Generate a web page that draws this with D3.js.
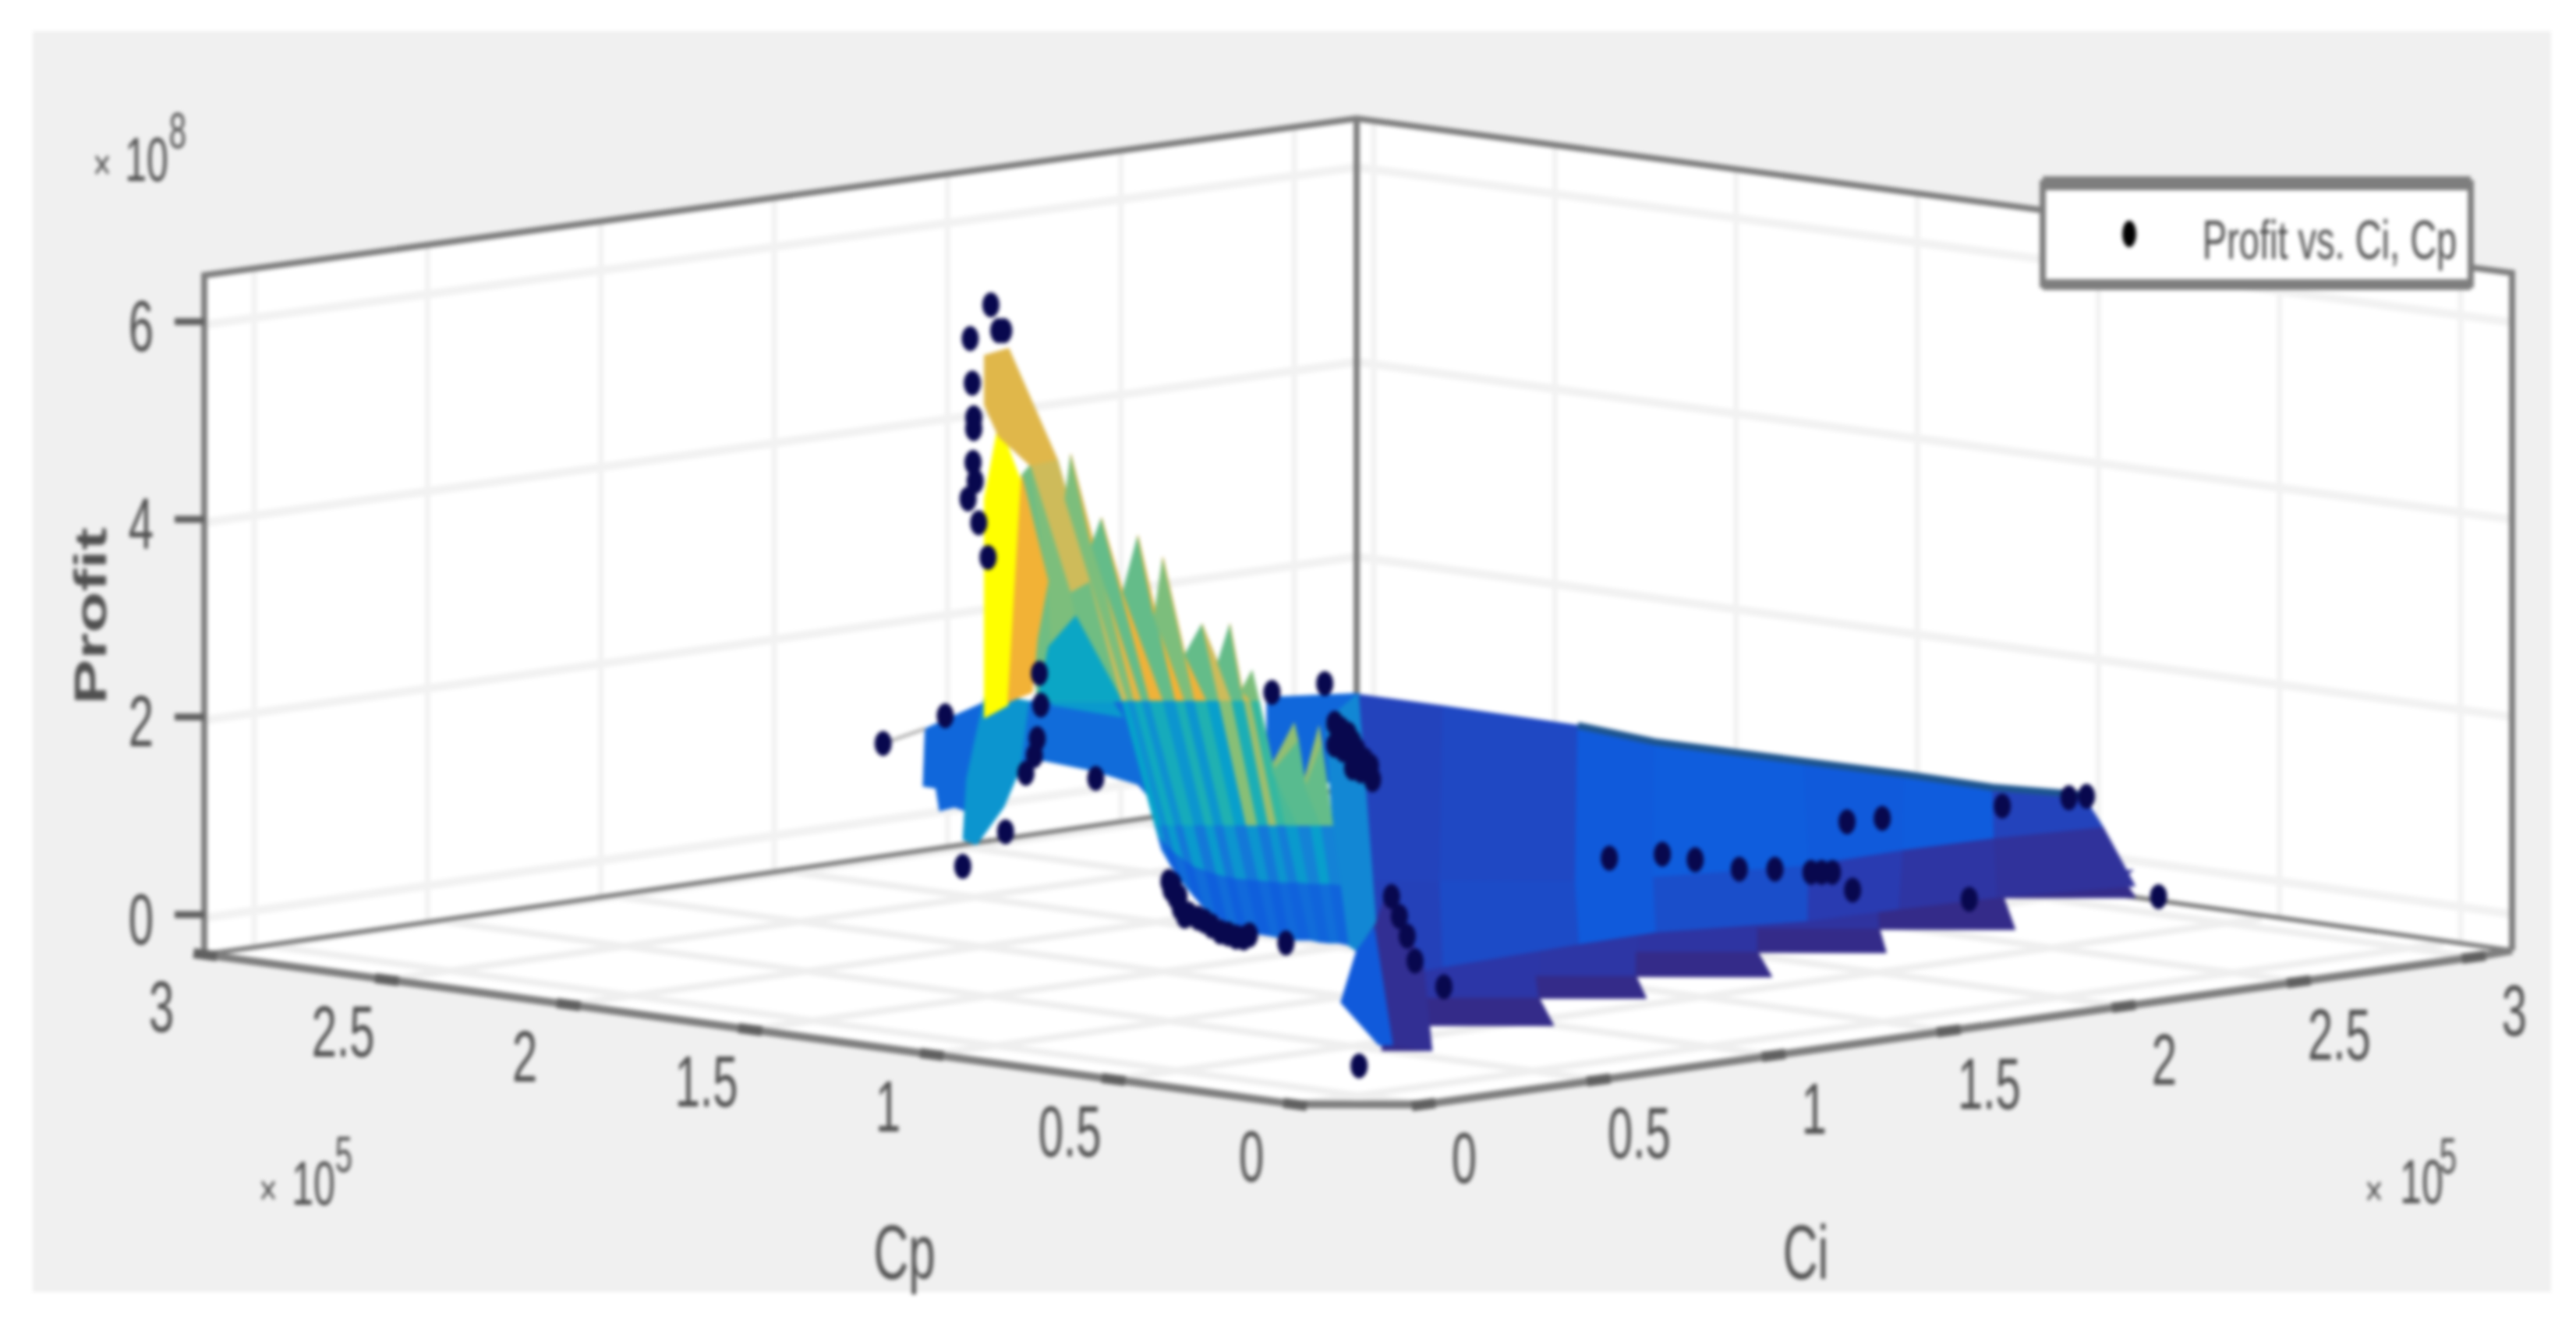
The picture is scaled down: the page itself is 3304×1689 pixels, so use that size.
<!DOCTYPE html>
<html><head><meta charset="utf-8">
<script src="https://cdn.jsdelivr.net/npm/d3@7/dist/d3.min.js"></script>
<style>html,body{margin:0;padding:0;background:#fff}svg{display:block;filter:blur(2.5px)}</style>
</head><body><div id="chart"></div>
<script>
// ---------- axis data ----------
const cpTicks=[0,0.5,1,1.5,2,2.5,3];
const ciTicks=[0,0.5,1,1.5,2,2.5,3];
const zTicks=[0,2,4,6];
const legendLabel="Profit vs. Ci, Cp";
const cpLimits=[-0.18,3], ciLimits=[-0.18,3.1], zLimits=[-0.37,6.5];

// ---------- scatter data (Cp, Ci in 1e5, Profit in 1e8) ----------
const scatterCp=[1.987,1.976,1.969,2.016,2.013,2.011,2.011,2.012,2.009,2.019,2.004,1.991,
 2.138,2.051,1.919,1.917,1.922,1.926,1.938,1.840,1.593,1.519,0.985,1.045,-0.07,
 0.756,0.753,0.746,0.740,0.734,0.715,0.696,0.684,0.662,0.643,0.592,
 0.750,0.742,0.728,0.706,0.673,0.651,
 1.505,1.486,1.474,1.455,1.493,1.468,1.505,
 1.496,1.48,1.463,1.48,1.494,1.452,
 0.53,0.52,0.51,0.885,0.87,0.855,0.82,0.72,0.565,0.515,0.435,0.42,0.405,0.20,0.537,0.495,0.40,
 0.444,0.433,0.422,0.411];
const scatterCi=[1.013,1.024,1.031,0.984,0.987,0.989,0.989,0.988,0.991,0.981,0.996,1.009,
 0.862,0.949,1.081,1.083,1.078,1.074,1.062,1.160,1.407,1.481,0.015,-0.045,-0.07,
 0.244,0.247,0.254,0.260,0.266,0.285,0.304,0.316,0.338,0.357,0.408,
 0.250,0.258,0.272,0.294,0.327,0.349,
 1.495,1.514,1.526,1.545,1.507,1.532,1.495,
 1.504,1.52,1.537,1.52,1.506,1.548,
 2.39,2.57,2.61,2.315,2.40,1.605,1.72,1.71,1.675,1.725,1.745,1.76,1.775,1.62,2.303,2.80,0.66,
 0.556,0.567,0.578,0.589];
const scatterZ=[6.11,5.85,5.85,5.77,5.32,4.97,4.86,4.52,4.33,4.15,3.91,3.56,
 1.68,1.96,2.39,2.07,1.73,1.56,1.38,1.33,2.20,2.29,1.79,1.44,0,
 1.29,1.21,1.13,1.02,0.94,0.92,0.84,0.78,0.73,0.75,0.67,
 1.26,1.14,0.96,0.89,0.76,0.72,
 1.89,1.78,1.62,1.46,1.62,1.41,1.67,
 1.83,1.70,1.52,1.44,1.75,1.32,
 1.1,1.1,1.1,0.8,0.8,0.8,0.8,0.8,0.8,0.8,0.8,0.8,0.8,0.8,0.2,0,0.2,
 1.14,0.94,0.74,0.49];

// ---------- fitted surface: sawtooth ridge (rows x columns) ----------
const ribCp=[
 [1.894,1.883,1.875,1.846,1.832,1.802,1.781,1.758,1.746,1.715,1.691,1.669,1.652,1.636,1.621,1.595,1.562,1.549,1.527],
 [1.803,1.795,1.786,1.775,1.764,1.745,1.728,1.715,1.701,1.684,1.667,1.649,1.632,1.622,1.611,1.592,1.556,1.546,1.523],
 [1.266,1.257,1.249,1.238,1.227,1.211,1.196,1.183,1.170,1.154,1.138,1.122,1.107,1.095,1.083,1.066,1.048,1.033,1.017],
 [1.016,1.005,0.994,0.980,0.967,0.951,0.935,0.921,0.908,0.892,0.876,0.861,0.847,0.834,0.821,0.806,0.790,0.776,0.761],
 [0.766,0.753,0.739,0.722,0.706,0.690,0.673,0.659,0.646,0.630,0.613,0.600,0.586,0.573,0.558,0.545,0.531,0.518,0.505]];
const ribCi=[
 [1.106,1.117,1.125,1.154,1.168,1.198,1.219,1.242,1.254,1.285,1.309,1.331,1.348,1.364,1.379,1.405,1.438,1.451,1.473],
 [1.197,1.205,1.214,1.225,1.236,1.255,1.272,1.285,1.299,1.316,1.333,1.351,1.368,1.378,1.389,1.408,1.444,1.454,1.477],
 [0.734,0.743,0.751,0.762,0.773,0.789,0.804,0.817,0.830,0.846,0.862,0.878,0.893,0.905,0.917,0.934,0.952,0.967,0.983],
 [0.484,0.495,0.506,0.520,0.534,0.550,0.566,0.579,0.592,0.608,0.625,0.639,0.654,0.666,0.680,0.695,0.711,0.725,0.739],
 [0.234,0.247,0.261,0.278,0.294,0.310,0.327,0.341,0.354,0.370,0.387,0.400,0.414,0.427,0.442,0.455,0.469,0.482,0.495]];
const ribZ=[
 [4.55,4.15,4.60,3.68,3.96,3.21,3.78,2.97,3.56,2.58,2.89,2.50,2.89,2.22,2.42,1.44,1.89,1.28,1.86],
 [2.11,2.11,2.11,2.11,2.11,2.11,2.11,2.11,2.11,2.11,2.11,2.11,2.11,2.11,2.11,1.40,1.71,1.24,1.67],
 [1.35,1.35,1.35,1.35,1.35,1.35,1.35,1.35,1.35,1.35,1.35,1.35,1.35,1.35,1.35,1.35,1.35,1.35,1.35],
 [1.48,1.40,1.325,1.25,1.185,1.145,1.105,1.085,1.065,1.055,1.045,1.035,1.025,1.025,1.025,1.015,1.01,1.01,1.00],
 [1.61,1.45,1.30,1.15,1.02,0.94,0.86,0.82,0.78,0.76,0.74,0.72,0.70,0.70,0.70,0.68,0.67,0.67,0.65]];
const ribC=[
 [4.4,3.6,4.8,3.4,5.0,3.4,5.1,3.6,5.0,3.4,4.4,3.4,4.6,3.6,3.6,3.8,3.6,3.8],
 [2.2,1.8,2.4,1.8,2.5,1.9,2.6,1.9,2.7,2.1,3.7,2.6,3.9,3.0,3.2,3.3,3.3,3.4],
 [1.9,1.3,2.0,1.3,2.0,1.3,2.0,1.3,1.9,1.3,1.9,1.3,1.9,1.4,2.0,1.5,2.1,1.5],
 [1.0,0.8,1.05,0.8,1.05,0.8,1.05,0.8,1.0,0.8,1.0,0.8,1.0,0.85,1.05,0.9,1.1,0.9]];

// ---------- fitted surface: low sheet ----------
const sheetCp=[[2.54,2.30,1.92,1.65,1.25,0.98,0.73,0.53],
 [1.07,0.96,0.77,0.70,0.60,0.62,0.61,0.57],
 [0.41,0.45,0.49,0.50,0.40,0.39,0.37,0.29]];
const sheetCi=[[2.63,2.63,2.62,2.56,2.57,2.58,2.57,2.62],
 [1.12,1.23,1.42,1.57,1.91,2.20,2.45,2.72],
 [0.43,0.71,1.14,1.37,1.70,1.95,2.21,2.52]];
const sheetZ=[1.1,0.7,0.35];
const sheetC=[[0.50,0.55,0.72,0.75,0.72,0.74,0.50],
 [0.48,0.58,0.72,0.60,0.42,0.28,0.20]];

// ---------- fitted surface: stair-stepped lower edge ----------
const stairCp=[[0.58,0.05,-0.02,0.25,0.60],[0.60,0.25,0.06,0.35,0.66],[0.66,0.35,0.20,0.43,0.65],
 [0.65,0.43,0.24,0.50,0.59],[0.59,0.50,0.32,0.56,0.55],[0.55,0.56,0.37,0.70,0.51],[0.51,0.70,0.52,0.73,0.45]];
const stairCi=[[0.67,0.12,0.19,0.43,0.80],[0.80,0.43,0.62,0.88,1.21],[1.21,0.88,1.03,1.24,1.48],
 [1.48,1.24,1.43,1.66,1.75],[1.75,1.66,1.84,2.07,2.06],[2.06,2.07,2.26,2.57,2.38],[2.38,2.57,2.76,2.94,2.68]];
const stairZ=[0.35,0,0,0,0.35];
const stairC=[0.30,0.32,0.30,0.27,0.24,0.20,0.16];
const stairLipCp=[0.30,0.52,0.57,0.67,0.73,0.88,0.90];
const stairLipCi=[0.38,0.71,1.10,1.49,1.90,2.40,2.77];
const stairLipC=0.02;

// ---------- fitted surface: patches behind the sheet ----------
const backCp=[[1.6,1.472,1.472,1.6],
 [2.079,1.995,1.995,2.038,2.059,2.064,2.082],
 [1.995,1.928,1.944,1.969,2.007,2.026,2.021],
 [1.933,1.906,1.869,1.769,1.748,1.781,1.844,1.913,1.944],
 [1.906,1.869,1.802,1.901]];
const backCi=[[1.4,1.528,1.528,1.4],
 [0.921,1.005,1.005,0.962,0.941,0.936,0.918],
 [1.005,1.072,1.056,1.031,0.993,0.974,0.979],
 [1.067,1.094,1.131,1.231,1.252,1.219,1.156,1.087,1.056],
 [1.094,1.131,1.198,1.099]];
const backZ=[[2.15,2.19,1.32,1.24],
 [1.83,2.10,0.93,1.04,1.00,1.23,1.25],
 [2.19,2.10,1.46,1.04,0.66,0.71,1.32],
 [2.10,2.19,2.68,1.87,1.00,1.27,1.41,1.51,1.46],
 [2.19,2.68,1.95,2.07]];
const backC=[0.95,0.95,1.9,1.05,2.0];

// ---------- fitted surface: peak patches ----------
const peakCp=[[1.518,1.472,0.466,0.493,0.505,1.017],
 [1.944,1.932,1.894,1.803,1.922],
 [1.932,1.894,1.846,1.876],
 [1.907,1.932,1.876,1.857,1.901],
 [1.922,1.906,1.868,1.803],
 [1.996,1.996,1.976,1.944,1.963],
 [1.963,1.944,1.907,1.922,1.929],
 [1.996,1.962,1.894,1.932,1.976,1.996]];
const peakCi=[[1.482,1.528,0.534,0.507,0.495,0.983],
 [1.056,1.068,1.106,1.197,1.078],
 [1.068,1.106,1.154,1.124],
 [1.093,1.068,1.124,1.143,1.099],
 [1.078,1.094,1.132,1.197],
 [1.004,1.004,1.024,1.056,1.037],
 [1.037,1.056,1.093,1.078,1.071],
 [1.004,1.038,1.106,1.068,1.024,1.004]];
const peakZ=[[1.91,2.19,0.88,0.59,0.65,1.35],
 [4.39,4.49,4.55,2.11,2.11],
 [4.49,4.55,3.33,3.21],
 [3.32,4.49,3.21,2.50,2.50],
 [2.11,2.66,2.97,2.11],
 [1.94,4.15,4.92,4.31,2.07],
 [2.10,4.39,3.32,2.74,2.20],
 [5.60,5.67,4.55,4.49,4.78,5.10]];
const peakC=[1.6,3.5,4.4,3.6,2.3,5.9,5.05,4.7];

// ---------- fitted surface: front strip ----------
const frontCp=[[0.468,0.94,0.399,-0.02,0.05],[0.515,0.493,0.468,0.05,0.069]];
const frontCi=[[0.532,1.06,0.601,0.19,0.15],[0.485,0.507,0.532,0.15,0.131]];
const frontZ=[[0.82,0.72,0.43,0,0.04],[0.07,0.59,0.82,0.04,0.04]];
const frontC=[0.12,0.72];

// ---------- colour map (parula-like) ----------
const colorStops=[0,0.07,0.125,0.25,0.375,0.5,0.625,0.75,0.875,1];
const colorRange=["#352a87","#2a3ab0","#0f5cdd","#1481d6","#06a4ca","#2eb7a4","#87bf77","#d1bb59","#f8b030","#ffff00"];
const color=d3.scaleLinear().domain(colorStops.map(t=>t*5.9)).range(colorRange).clamp(true);

// ---------- projection ----------
const W=3304,H=1689;
const xCp=d3.scaleLinear().domain([0,3]).range([0,-1398]);
const xCi=d3.scaleLinear().domain([0,3]).range([0,1347]);
const yCp=d3.scaleLinear().domain([0,3]).range([0,-192]);
const yCi=d3.scaleLinear().domain([0,3]).range([0,-189]);
const yZ=d3.scaleLinear().domain([0,1]).range([0,-127]);
const project=(cp,ci,z)=>[1742+xCp(cp)+xCi(ci),1358+yCp(cp)+yCi(ci)+yZ(z)];
const floorPt=(cp,ci)=>project(cp,ci,zLimits[0]);

// wall frame (reference frame has a little perspective)
const wallL=d3.scaleLinear().domain(zLimits).range([1224,353]);
const wallB=d3.scaleLinear().domain(zLimits).range([1010,152]);
const wallR=d3.scaleLinear().domain(zLimits).range([1219,350]);
const xL=262,xB=1740,xR=3222;
const wallCiX=d3.scaleLinear().domain([0,3]).range([326,1660]);
const wallCpX=d3.scaleLinear().domain([3,0]).range([1762,3156]);
const lerp=(a,b,f)=>a+(b-a)*f;

const svg=d3.select("#chart").append("svg").attr("width",W).attr("height",H);
const line=d3.line();
const path=(pts,closed)=>line(pts)+(closed?"Z":"");

svg.append("rect").attr("width",W).attr("height",H).attr("fill","#fff");
svg.append("rect").attr("x",42).attr("y",40).attr("width",3230).attr("height",1617).attr("fill","#f0f0f0");

const box=svg.append("g");
// walls + floor
box.append("path").attr("fill","#fff").attr("d",path([[xL,wallL(zLimits[1])],[xB,wallB(zLimits[1])],[xR,wallR(zLimits[1])],[xR,wallR(zLimits[0])],[1828,1416],[1660,1416],[xL,wallL(zLimits[0])]],true));

const gridC="#f2f2f2";
// wall verticals
ciTicks.forEach(t=>{const x=wallCiX(t),f=(x-xL)/(xB-xL);
 box.append("path").attr("stroke",gridC).attr("stroke-width",7).attr("fill","none")
  .attr("d",path([[x,lerp(wallL(zLimits[1]),wallB(zLimits[1]),f)],[x,lerp(wallL(zLimits[0]),wallB(zLimits[0]),f)]]));});
cpTicks.forEach(t=>{const x=wallCpX(t),f=(x-xB)/(xR-xB);
 box.append("path").attr("stroke",gridC).attr("stroke-width",7).attr("fill","none")
  .attr("d",path([[x,lerp(wallB(zLimits[1]),wallR(zLimits[1]),f)],[x,lerp(wallB(zLimits[0]),wallR(zLimits[0]),f)]]));});
// wall horizontals
zTicks.forEach(t=>{
 box.append("path").attr("stroke",gridC).attr("stroke-width",11).attr("fill","none")
  .attr("d",path([[xL,wallL(t)],[xB,wallB(t)],[xR,wallR(t)]]));});
// floor grid
cpTicks.forEach(t=>box.append("path").attr("stroke","#efefef").attr("stroke-width",9).attr("fill","none")
  .attr("d",path([floorPt(t,ciLimits[0]),floorPt(t,ciLimits[1])])));
ciTicks.forEach(t=>box.append("path").attr("stroke","#efefef").attr("stroke-width",9).attr("fill","none")
  .attr("d",path([floorPt(cpLimits[0],t),floorPt(cpLimits[1],t)])));

// frame lines
const frameC="#7e7e7e";
const frameLine=(pts,w)=>box.append("path").attr("fill","none").attr("stroke",frameC).attr("stroke-width",w).attr("d",path(pts));
frameLine([[xL,wallL(zLimits[0])],[xL,wallL(zLimits[1])],[xB,wallB(zLimits[1])],[xR,wallR(zLimits[1])],[xR,wallR(zLimits[0])]],8);
frameLine([[xB,wallB(zLimits[1])],[xB,wallB(zLimits[0])]],8);
frameLine([[xL,wallL(zLimits[0])],[xB,wallB(zLimits[0])],[xR,wallR(zLimits[0])]],6);
frameLine([floorPt(3,ciLimits[0]),floorPt(0,ciLimits[0]),floorPt(cpLimits[0],0),floorPt(cpLimits[0],3),[xR,wallR(zLimits[0])]],10);

// ticks
const tickC="#606060";
const tick=(a,b,w)=>box.append("path").attr("fill","none").attr("stroke",tickC).attr("stroke-width",w).attr("d",path([a,b]));
cpTicks.forEach(t=>{const p=floorPt(t,ciLimits[0]);tick([p[0]-15,p[1]-2],[p[0]+15,p[1]+2],13);});
ciTicks.forEach(t=>{const p=floorPt(cpLimits[0],t);tick([p[0]-15,p[1]+2],[p[0]+15,p[1]-2],13);});
zTicks.forEach(t=>tick([xL-38,wallL(t)-4],[xL,wallL(t)-4],9));

// text helper
const TXT="#505050";
function label(x,y,str,fs,sx,sy,rot,weight){
 const g=svg.append("g").attr("transform",`translate(${x},${y})`+(rot?` rotate(${rot})`:"")+` scale(${sx},${sy})`);
 g.append("text").attr("text-anchor","middle").attr("dy","0.36em")
  .attr("font-family","'Liberation Sans',Arial,sans-serif").attr("font-size",fs).attr("font-weight",weight||"normal").attr("fill",TXT).text(str);
}
cpTicks.forEach(t=>{const p=floorPt(t,ciLimits[0]);label(p[0]-56,p[1]+65,String(t),58,1,1.6);});
ciTicks.forEach(t=>{const p=floorPt(cpLimits[0],t);label(p[0]+52,p[1]+67,String(t),58,1,1.6);});
zTicks.forEach(t=>label(181,wallL(t),String(t),58,1,1.6));
label(115,790,"Profit",58,1.5,1,-90,"bold");
label(1160,1604,"Cp",62,1,1.6);
label(2316,1604,"Ci",62,1,1.6);
// axis exponents
[[131,210,188,203,228,167,"8"],[344,1525,402,1516,441,1480,"5"],[3045,1526,3106,1514,3140,1482,"5"]].forEach(e=>{
 label(e[0],e[1],"\u00d7",40,1,1.4);label(e[2],e[3],"10",50,1,1.6);label(e[4],e[5],e[6],40,1,1.6);
});

// surface
const surf=svg.append("g");
function facet(verts,c){
 const col=color(c);
 surf.append("path").attr("d",path(verts,true)).attr("fill",col).attr("stroke",col).attr("stroke-width",1.2).attr("stroke-linejoin","round");
}
const polyFrom=(cps,cis,zs)=>cps.map((cp,i)=>project(cp,cis[i],zs[i]));

backCp.forEach((cps,k)=>facet(polyFrom(cps,backCi[k],backZ[k]),backC[k]));
// outlier link
surf.append("path").attr("fill","none").attr("stroke","#b8b8b8").attr("stroke-width",5)
 .attr("d",path([project(scatterCp[12],scatterCi[12],scatterZ[12]),project(backCp[1][0],backCi[1][0],backZ[1][0])]));
// stairs
stairCp.forEach((cps,k)=>facet(polyFrom(cps,stairCi[k],stairZ),stairC[k]));
stairCp.forEach((cps,k)=>{
 const lipZ=[0,0,0,0];
 facet(polyFrom([stairLipCp[k],cps[1],cps[2],cps[3]],[stairLipCi[k],stairCi[k][1],stairCi[k][2],stairCi[k][3]],lipZ),stairLipC);
});
// sheet
sheetC.forEach((row,r)=>row.forEach((c,j)=>{
 facet([project(sheetCp[r][j],sheetCi[r][j],sheetZ[r]),project(sheetCp[r][j+1],sheetCi[r][j+1],sheetZ[r]),
  project(sheetCp[r+1][j+1],sheetCi[r+1][j+1],sheetZ[r+1]),project(sheetCp[r+1][j],sheetCi[r+1][j],sheetZ[r+1])],c);
}));
surf.append("path").attr("fill","none").attr("stroke","#1d5590").attr("stroke-width",9)
 .attr("d",path(sheetCp[0].slice(2).map((cp,j)=>project(cp,sheetCi[0][j+2],sheetZ[0]))));
// peak patches
peakCp.forEach((cps,k)=>facet(polyFrom(cps,peakCi[k],peakZ[k]),peakC[k]));
// ridge
ribC.forEach((row,r)=>row.forEach((c,j)=>{
 facet([project(ribCp[r][j],ribCi[r][j],ribZ[r][j]),project(ribCp[r][j+1],ribCi[r][j+1],ribZ[r][j+1]),
  project(ribCp[r+1][j+1],ribCi[r+1][j+1],ribZ[r+1][j+1]),project(ribCp[r+1][j],ribCi[r+1][j],ribZ[r+1][j])],c);
}));
// front strip
frontCp.forEach((cps,k)=>facet(polyFrom(cps,frontCi[k],frontZ[k]),frontC[k]));

// scatter
svg.append("g").selectAll("ellipse").data(scatterCp).join("ellipse")
 .attr("cx",(d,i)=>project(d,scatterCi[i],scatterZ[i])[0])
 .attr("cy",(d,i)=>project(d,scatterCi[i],scatterZ[i])[1])
 .attr("rx",11).attr("ry",16).attr("fill","#08084e");

// legend
const lg=svg.append("g");
lg.append("rect").attr("x",2620).attr("y",235).attr("width",549).attr("height",130).attr("fill","#fff").attr("stroke",frameC).attr("stroke-width",8);
lg.append("path").attr("d","M2620,235H3169").attr("stroke",frameC).attr("stroke-width",18);
lg.append("path").attr("d","M2620,365H3169").attr("stroke",frameC).attr("stroke-width",14);
lg.append("ellipse").attr("cx",2731).attr("cy",300).attr("rx",9).attr("ry",17).attr("fill","#000");
label(2988,307,legendLabel,47,1,1.5);
</script></body></html>
